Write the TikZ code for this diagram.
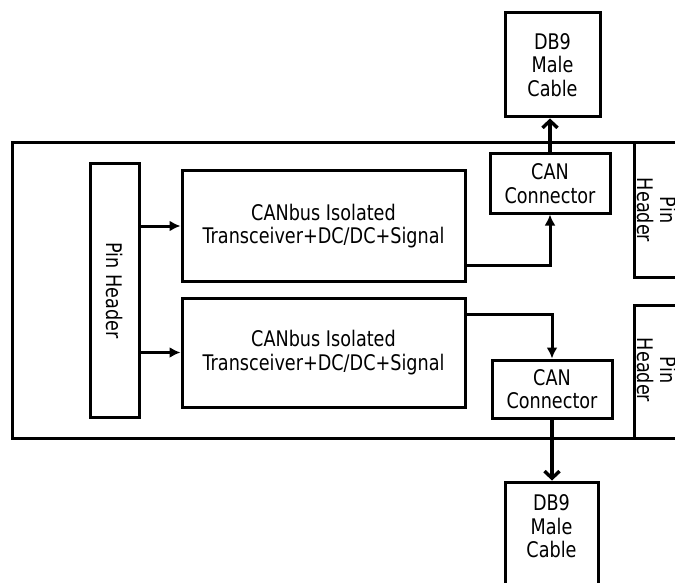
\documentclass[tikz,border=0pt]{standalone}
\usepackage{fontspec}
\setmainfont[FakeStretch=0.82]{DejaVu Sans}
\usetikzlibrary{arrows.meta}
\begin{document}
\begin{tikzpicture}[x=1pt,y=-1pt,
  blk/.style={draw,line width=3pt,inner sep=0pt},
  lbl/.style={font=\fontsize{21.5}{23.5}\selectfont,align=center,inner sep=0pt},
  wire/.style={line width=3pt,-{Latex[length=11pt,width=11pt]}},
  cable/.style={line width=3.4pt,-{Straight Barb[length=7pt,width=15pt,line width=3.4pt]}}]
\useasboundingbox (0,0) rectangle (675,583);
\clip (0,0) rectangle (675,583);

% board outline and side headers
\draw[blk] (12,143) rectangle (720,438);
\draw[blk] (634,143) rectangle (720,277);
\draw[blk] (634,305) rectangle (720,438);
\node[lbl,rotate=-90] (phr1) at (657,210) {Pin\\Header};
\node[lbl,rotate=-90] (phr2) at (657,370) {Pin\\Header};

% left pin header
\node[blk,minimum width=49pt,minimum height=253pt] (ph) at (114.5,290.5) {};
\node[lbl,rotate=-90] at (ph) {Pin Header};

% transceivers
\node[blk,minimum width=283pt,minimum height=110pt] (tx1) at (323.5,226) {};
\node[lbl] at (tx1) {CANbus Isolated\\Transceiver+DC/DC+Signal};
\node[blk,minimum width=283pt,minimum height=109pt] (tx2) at (323.5,352.5) {};
\node[lbl] at (tx2) {CANbus Isolated\\Transceiver+DC/DC+Signal};

% CAN connectors
\node[blk,minimum width=120pt,minimum height=59pt] (can1) at (550,183.5) {};
\node[lbl] at (can1) {CAN\\Connector};
\node[blk,minimum width=120pt,minimum height=58pt] (can2) at (552,389) {};
\node[lbl] at (can2) {CAN\\Connector};

% DB9 cables
\node[blk,minimum width=95pt,minimum height=104pt] (db1) at (552.5,65) {};
\node[lbl] at (db1) {DB9\\Male\\Cable};
\node[blk,minimum width=93pt,minimum height=104pt] (db2) at (551.5,534) {};
\node[lbl,anchor=north] at ([yshift=-14pt]db2.north) {DB9\\Male\\Cable};

% signal paths
\draw[wire] (ph.east |- tx1.west) -- (tx1.west);
\draw[wire] (ph.east |- tx2.west) -- (tx2.west);
\draw[wire] ([yshift=-39pt]tx1.east) -| (can1.south);
\draw[wire] ([yshift=-18pt]tx2.north east) -| (can2.north);
\draw[cable] (can1.north) -- (can1.north |- db1.south);
\draw[cable] (can2.south) -- (can2.south |- db2.north);
\end{tikzpicture}
\end{document}
